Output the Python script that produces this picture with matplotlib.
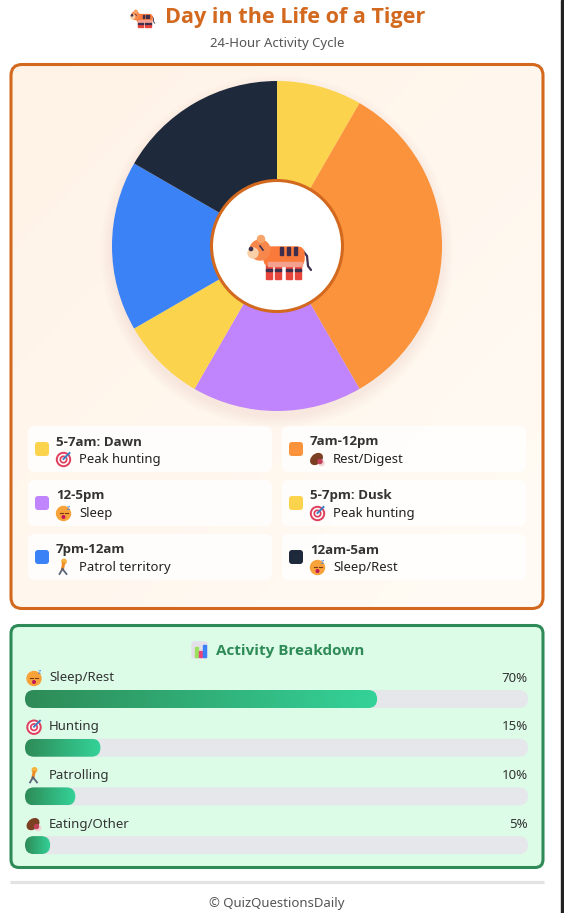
"""
Day in the Life of a Tiger - 24-hour activity donut + activity breakdown bars.
"""

import matplotlib

matplotlib.use("Agg")
import matplotlib.pyplot as plt
import numpy as np
from matplotlib.colors import LinearSegmentedColormap
from matplotlib.patches import Circle, Ellipse, FancyBboxPatch, Rectangle

plt.rcParams["font.family"] = ["Noto Sans", "DejaVu Sans"]
BOLD = ["Open Sans", "DejaVu Sans"]

# ---- data ----
slot_titles = ["5-7am: Dawn", "7am-12pm", "12-5pm", "5-7pm: Dusk", "7pm-12am", "12am-5am"]
slot_notes = ["Peak hunting", "Rest/Digest", "Sleep", "Peak hunting", "Patrol territory", "Sleep/Rest"]
slot_icons = ["target", "meat", "sleep", "target", "walk", "sleep"]
slot_values = [2, 8, 4, 2, 4, 4]
slot_colors = ["#FCD34D", "#FB923C", "#C084FC", "#FCD34D", "#3B82F6", "#1E293B"]

activity_labels = ["Sleep/Rest", "Hunting", "Patrolling", "Eating/Other"]
activity_icons = ["sleep", "target", "walk", "meat"]
activity_pct = [70, 15, 10, 5]

ORANGE = "#D2691E"
GREEN = "#2E8B57"
W, H = 564, 913

fig = plt.figure(figsize=(W / 100, H / 100), dpi=100)
fig.patch.set_facecolor("white")

# main axes in pixel coordinates (y down)
ax = fig.add_axes([0, 0, 1, 1])
ax.set_xlim(0, W)
ax.set_ylim(H, 0)
ax.axis("off")


def rbox(a, x, y, w, h, r, **kw):
    p = FancyBboxPatch((x, y), w, h, boxstyle=f"round,pad=0,rounding_size={r}", **kw)
    a.add_patch(p)
    return p


def draw_icon(a, kind, cx, cy, s=1.0):
    # rough stand-ins for the emoji glyphs
    if kind == "target":
        for r, c in [(7, "#E0405E"), (5, "white"), (3.4, "#E0405E"), (1.6, "white")]:
            a.add_patch(Circle((cx, cy + 0.5), r * s, color=c, zorder=5))
        a.plot([cx, cx + 6 * s], [cy, cy - 6 * s], color="#3B82C4", lw=1.4, zorder=6)
    elif kind == "sleep":
        a.add_patch(Circle((cx, cy + 0.5), 7 * s, color="#F7A339", zorder=5))
        a.plot([cx - 4 * s, cx - 1 * s], [cy + 0.5, cy + 0.5], color="#7A3A1A", lw=0.8, zorder=6)
        a.plot([cx + 1 * s, cx + 4 * s], [cy + 0.5, cy + 0.5], color="#7A3A1A", lw=0.8, zorder=6)
        a.add_patch(Circle((cx, cy + 4 * s), 1.3 * s, color="#C2185B", zorder=6))
        a.text(cx + 5 * s, cy - 5 * s, "z", color="#3B82F6", fontsize=5 * s, fontweight="bold",
               ha="center", va="center", zorder=6)
    elif kind == "meat":
        a.add_patch(Ellipse((cx - 1 * s, cy), 13 * s, 9 * s, angle=-40, color="#7B3F22", zorder=5))
        a.add_patch(Circle((cx + 4 * s, cy + 4 * s), 2.6 * s, color="#F1D4D4", zorder=6))
        a.add_patch(Circle((cx + 2.5 * s, cy + 2.5 * s), 2.0 * s, color="#C2415A", zorder=6))
    elif kind == "walk":
        a.add_patch(Circle((cx + 0.5 * s, cy - 5.5 * s), 2.2 * s, color="#F5B13D", zorder=5))
        a.plot([cx, cx - 1 * s], [cy - 3 * s, cy + 2 * s], color="#F08A24", lw=2.2 * s, zorder=5)
        a.plot([cx - 1 * s, cx - 4 * s], [cy + 2 * s, cy + 7 * s], color="#5B6478", lw=1.3 * s, zorder=5)
        a.plot([cx - 1 * s, cx + 3 * s], [cy + 2 * s, cy + 7 * s], color="#5B6478", lw=1.3 * s, zorder=5)
    elif kind == "chart":
        rbox(a, cx - 7.5 * s, cy - 8 * s, 15 * s, 16 * s, 2, color="#E4E0EA", zorder=5)
        for dx, hh, c in [(-5, 10, "#9BE15D"), (-1, 6, "#E8457A"), (3, 12, "#3B82F6")]:
            a.add_patch(Rectangle((cx + dx * s, cy + (8 - hh) * s - 1), 3 * s, hh * s,
                                  color=c, zorder=6))


def draw_tiger(a, cx, cy, s=1.0):
    def P(x, y):
        return cx + x * s, cy + y * s

    for lx in [-14, -5, 6, 15]:
        a.add_patch(Rectangle(P(lx, 6), 6 * s, 17 * s, color="#E8453C", zorder=7))
        a.add_patch(Rectangle(P(lx, 13), 6 * s, 2.5 * s, color="#3E2F4F", zorder=8))
    rbox(a, *P(-16, -9), 40 * s, 19 * s, 7 * s, color="#F97A3A", zorder=7)
    a.add_patch(Rectangle(P(-12, 6), 34 * s, 4 * s, color="#F4A08E", zorder=7))
    for sx in [0, 7, 14]:
        a.add_patch(Rectangle(P(sx, -9), 3 * s, 8 * s, color="#3E2F4F", zorder=8))
    a.plot(*zip(P(23, -5), P(27, 0), P(28, 10), P(31, 14)), color="#3E2F4F",
           lw=1.6 * s, solid_capstyle="round", zorder=6)
    a.add_patch(Circle(P(-20, -6), 10 * s, color="#F7874A", zorder=8))
    a.add_patch(Circle(P(-19, -17), 3.5 * s, color="#F7A46A", zorder=8))
    a.add_patch(Circle(P(-27, -3), 5 * s, color="#F8CFA8", zorder=9))
    a.add_patch(Circle(P(-29, -7), 1.6 * s, color="#3E2F4F", zorder=10))
    a.plot(*zip(P(-20, -10), P(-17, -6)), color="#3E2F4F", lw=1.2 * s, zorder=10)


# ---- header ----
draw_tiger(ax, 143, 18, 0.38)
ax.text(165, 17, "Day in the Life of a Tiger", color=ORANGE, fontsize=15.6,
        fontweight="bold", family=BOLD, ha="left", va="center")
ax.text(277, 43, "24-Hour Activity Cycle", color="#555555", fontsize=9.5,
        ha="center", va="center")

# right-edge dark strip
ax.add_patch(Rectangle((561, 0), 3, H, color="#222222", zorder=10))

# ---- card 1 ----
rbox(ax, 11, 64.5, 532, 544, 11, facecolor="none", edgecolor=ORANGE, lw=2.2, zorder=3)
gx, gy = np.meshgrid(np.linspace(0, 1, 60), np.linspace(0, 1, 60))
warm = np.clip((gx + gy) / 2, 0, 1)
bg = np.dstack([np.full_like(warm, 1.0),
                0.951 + 0.035 * warm,
                0.905 + 0.055 * warm])
img = ax.imshow(bg, extent=(11, 543, 608.5, 64.5), aspect="auto", zorder=1,
                interpolation="bilinear")
img.set_clip_path(rbox(ax, 11, 64.5, 532, 544, 11, facecolor="none", edgecolor="none"))

# legend boxes
for i, (title, note, icon, col) in enumerate(zip(slot_titles, slot_notes, slot_icons, slot_colors)):
    x0 = 28 + (i % 2) * 254
    y0 = 426 + (i // 2) * 54
    rbox(ax, x0, y0, 244, 46, 7, facecolor="white", edgecolor="none", alpha=0.85, zorder=4)
    rbox(ax, x0 + 7, y0 + 16, 14, 14, 3, facecolor=col, edgecolor="none", zorder=5)
    ax.text(x0 + 28, y0 + 16, title, color="#333333", fontsize=9.6, fontweight="bold",
            family=BOLD, ha="left", va="center", zorder=6)
    draw_icon(ax, icon, x0 + 35.5, y0 + 33, 1.0)
    ax.text(x0 + 51, y0 + 33, note, color="#222222", fontsize=9.4,
            ha="left", va="center", zorder=6)

# ---- donut ----
R_PX = 165
cx, cy = 277, 246
lim = 1.25
side = 2 * lim * R_PX
pax = fig.add_axes([(cx - side / 2) / W, (H - cy - side / 2) / H, side / W, side / H])
pax.set_xlim(-lim, lim)
pax.set_ylim(-lim, lim)
pax.set_aspect("equal")
pax.axis("off")
for k in range(8):
    pax.add_patch(Circle((0, -0.035), 1.0 + 0.01 * k, color="#8B5A2B", alpha=0.009, lw=0))
pax.pie(slot_values, colors=slot_colors, startangle=90, counterclock=False, radius=1.0,
        wedgeprops=dict(linewidth=0))
pax.set_xlim(-lim, lim)
pax.set_ylim(-lim, lim)
pax.add_patch(Circle((0, 0), 65.5 / R_PX, facecolor="white", edgecolor=ORANGE, lw=2.2, zorder=5))

# overlay axes for the centre glyph
top = fig.add_axes([0, 0, 1, 1])
top.set_xlim(0, W)
top.set_ylim(H, 0)
top.axis("off")
top.patch.set_alpha(0)
draw_tiger(top, 280, 256, 1.0)

# ---- card 2 ----
rbox(ax, 11, 625.5, 532, 242, 8, facecolor="#DCFCE7", edgecolor=GREEN, lw=2.2, zorder=3)
draw_icon(ax, "chart", 199.5, 650, 1.0)
ax.text(216, 651, "Activity Breakdown", color=GREEN, fontsize=11, fontweight="bold",
        family=BOLD, ha="left", va="center", zorder=6)

grad = LinearSegmentedColormap.from_list("g", ["#2E8B57", "#34D399"])
track_x0, track_w, bar_h = 25, 503, 18
for i, (lab, icon, pct) in enumerate(zip(activity_labels, activity_icons, activity_pct)):
    ly = 678 + i * 48.7
    ty = ly + 12
    draw_icon(ax, icon, 34, ly, 1.0)
    ax.text(49, ly, lab, color="#333333", fontsize=9.5, ha="left", va="center", zorder=6)
    ax.text(528, ly, f"{pct}%", color="#333333", fontsize=9.5, ha="right", va="center", zorder=6)
    rbox(ax, track_x0, ty, track_w, bar_h, 9, facecolor="#E5E7EB", edgecolor="none", zorder=4)
    fill_w = track_w * pct / 100
    clip = rbox(ax, track_x0, ty, fill_w, bar_h, 9, facecolor="none", edgecolor="none", zorder=5)
    gi = ax.imshow(np.linspace(0, 1, 256)[None, :], cmap=grad, aspect="auto",
                   extent=(track_x0, track_x0 + fill_w, ty + bar_h, ty), zorder=5)
    gi.set_clip_path(clip)

# ---- footer ----
ax.plot([10, 544], [882.5, 882.5], color="#E3E3E3", lw=2.3, solid_capstyle="butt")
ax.text(277, 903, "© QuizQuestionsDaily", color="#555555", fontsize=9.5,
        ha="center", va="center")

ax.set_xlim(0, W)
ax.set_ylim(H, 0)
fig.savefig("out.png", dpi=100)
